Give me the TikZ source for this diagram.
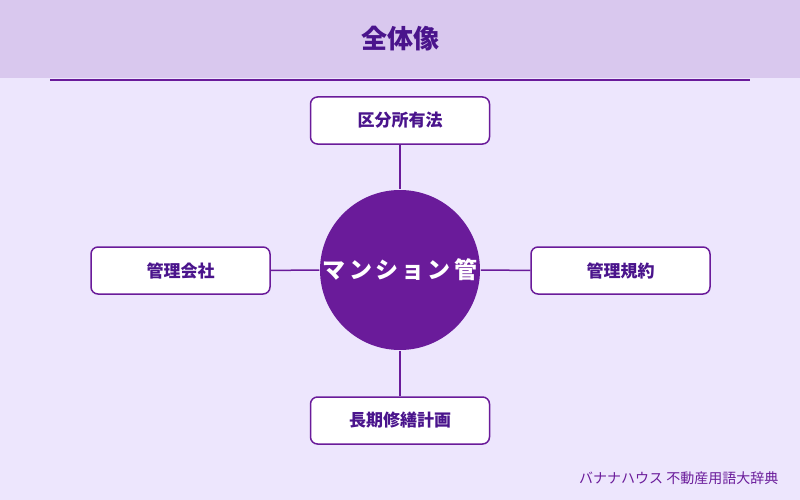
\documentclass[tikz,border=0pt]{standalone}
\usepackage{fontspec}
\setmainfont{Noto Sans CJK JP}
\usetikzlibrary{positioning}
\definecolor{bgcolor}{HTML}{EDE6FD}
\definecolor{bandcolor}{HTML}{D9C8EE}
\definecolor{mainpurple}{HTML}{6A1B9A}
\definecolor{darkpurple}{HTML}{4A148C}

\begin{document}
\begin{tikzpicture}[x=1pt, y=-1pt, line width=1.5pt,
    topic/.style={draw=mainpurple, fill=white, rounded corners=7pt,
                  minimum width=179pt, minimum height=47pt,
                  font=\fontsize{17}{19}\selectfont\bfseries, text=darkpurple},
    hub/.style={circle, fill=mainpurple, minimum size=160pt, inner sep=0pt,
                font=\fontsize{23}{25}\selectfont\bfseries\addfontfeatures{LetterSpace=14}, text=white},
    link/.style={draw=mainpurple, line width=1.5pt}]
    % background and header
    \fill[bgcolor] (0,0) rectangle (800,500);
    \fill[bandcolor] (0,0) rectangle (800,78);
    \draw[mainpurple, line width=2pt] (50,80) -- (750,80);
    \node[font=\fontsize{26}{28}\selectfont\bfseries, text=darkpurple] (title) at (400,39) {全体像};
    % hub
    \node[hub] (center) at (400,270) {マンション管};
    % topics
    \node[topic] (law) at (400,120.5) {区分所有法};
    \node[topic] (company) at (180.5,270.5) {管理会社};
    \node[topic] (rules) at (620.5,270.5) {管理規約};
    \node[topic] (plan) at (400,420.5) {長期修繕計画};
    % links
    \draw[link] (law) -- (center);
    \draw[link] (company) -- (center);
    \draw[link] (rules) -- (center);
    \draw[link] (plan) -- (center);
    % footer
    \node[anchor=east, inner sep=0pt, font=\fontsize{14}{16}\selectfont, text=mainpurple] (source) at (779,478) {バナナハウス 不動産用語大辞典};
\end{tikzpicture}
\end{document}
